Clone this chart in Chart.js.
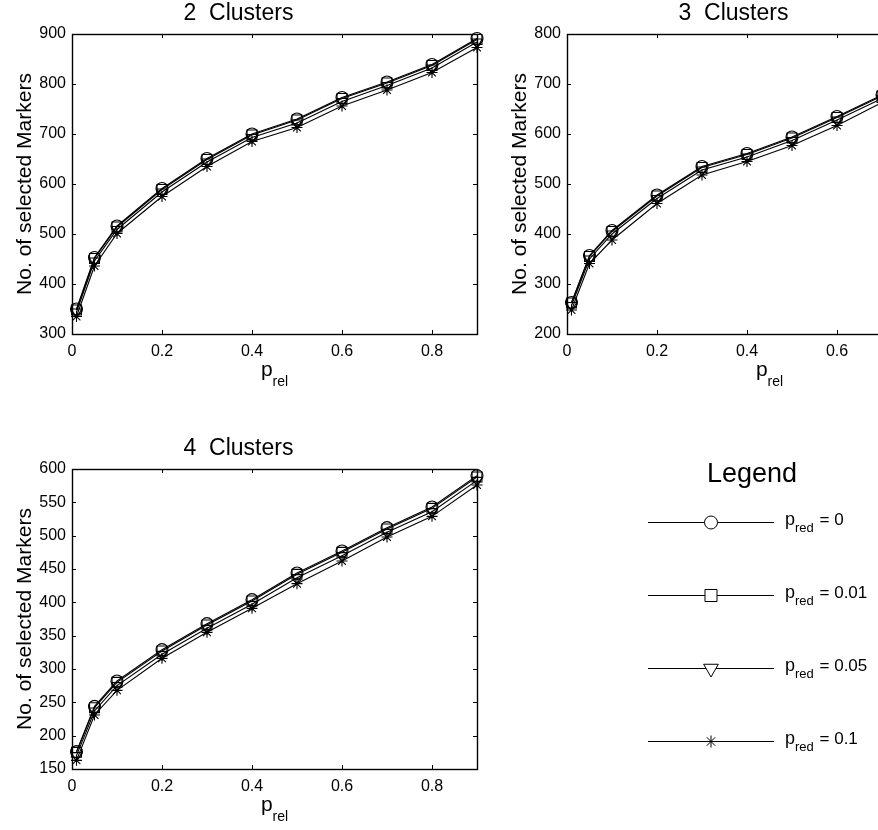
<!DOCTYPE html>
<html>
<head>
<meta charset="utf-8">
<script src="https://cdn.jsdelivr.net/npm/chart.js@4.4.1/dist/chart.umd.min.js"></script>
<style>
  html, body { margin: 0; padding: 0; background: #fff; overflow: hidden; }
  #wrap { position: relative; width: 878px; height: 830px; overflow: hidden; }
  canvas { position: absolute; }
</style>
</head>
<body>
<div id="wrap">
  <canvas id="c2" width="490" height="394" style="left:0;top:0"></canvas>
  <canvas id="c3" width="490" height="394" style="left:495px;top:0"></canvas>
  <canvas id="c4" width="490" height="394" style="left:0;top:435px"></canvas>
  <canvas id="leg" width="278" height="340" style="left:600px;top:440px"></canvas>
</div>
<script>
// x values (p_rel) and tick labels
var pRel = [0.01, 0.05, 0.1, 0.2, 0.3, 0.4, 0.5, 0.6, 0.7, 0.8, 0.9];
var xTicks = [0, 0.2, 0.4, 0.6, 0.8];

// 2 clusters
var c2Red0   = [350, 453, 516, 591, 651, 700, 730, 773, 804, 839, 891];
var c2Red001 = [348, 451, 514, 589, 649, 698, 728, 771, 802, 837, 889];
var c2Red005 = [344, 446, 509, 584, 644, 693, 722, 765, 797, 832, 884];
var c2Red01  = [335, 436, 501, 575, 635, 685, 713, 756, 788, 823, 873];

// 3 clusters
var c3Red0   = [263, 357, 407, 478, 535, 561, 594, 635, 678, 718, 770];
var c3Red001 = [262, 355, 405, 476, 533, 559, 592, 633, 676, 716, 768];
var c3Red005 = [257, 350, 400, 471, 528, 554, 587, 628, 671, 711, 763];
var c3Red01  = [248, 341, 388, 461, 518, 545, 577, 617, 663, 703, 755];

// 4 clusters
var c4Red0   = [176, 244, 282, 329, 368, 404, 444, 477, 512, 543, 590];
var c4Red001 = [175, 242, 280, 327, 366, 402, 442, 475, 510, 541, 588];
var c4Red005 = [170, 237, 275, 322, 361, 397, 437, 470, 505, 536, 583];
var c4Red01  = [163, 231, 268, 316, 355, 391, 428, 462, 498, 529, 576];

var legendLabels = ['0', '0.01', '0.05', '0.1'];

var FONT = '"Liberation Sans", Arial, Helvetica, sans-serif';
var markers = [
  { pointStyle: 'circle', rotation: 0, radius: 6, keyRadius: 6.5 },
  { pointStyle: 'rect', rotation: 0, radius: 7, keyRadius: 8.5 },
  { pointStyle: 'triangle', rotation: 180, radius: 6, keyRadius: 8.5 },
  { pointStyle: 'star', rotation: 0, radius: 5.5, keyRadius: 6 }
];

// box round the plot, inward ticks on all four sides, and the p_rel label
var frame = {
  id: 'frame',
  afterDraw: function (chart) {
    var ctx = chart.ctx, a = chart.chartArea;
    var xs = chart.scales.x, ys = chart.scales.y;
    ctx.save();
    ctx.strokeStyle = '#000';
    ctx.lineWidth = 1.4;
    ctx.strokeRect(Math.round(a.left) + 0.5, Math.round(a.top) + 0.5,
      Math.round(a.right - a.left), Math.round(a.bottom - a.top));
    ctx.lineWidth = 1;
    ctx.beginPath();
    xs.ticks.forEach(function (t) {
      var px = Math.round(xs.getPixelForValue(t.value)) + 0.5;
      ctx.moveTo(px, a.bottom); ctx.lineTo(px, a.bottom - 4);
      ctx.moveTo(px, a.top); ctx.lineTo(px, a.top + 4);
    });
    ys.ticks.forEach(function (t) {
      var py = Math.round(ys.getPixelForValue(t.value)) + 0.5;
      ctx.moveTo(a.left, py); ctx.lineTo(a.left + 4, py);
      ctx.moveTo(a.right, py); ctx.lineTo(a.right - 4, py);
    });
    ctx.stroke();

    var cx = (a.left + a.right) / 2;
    var base = a.bottom + 41.5;
    ctx.fillStyle = '#000';
    ctx.textBaseline = 'alphabetic';
    ctx.textAlign = 'left';
    ctx.font = '21px ' + FONT;
    var w1 = ctx.measureText('p').width;
    ctx.font = '14px ' + FONT;
    var w2 = ctx.measureText('rel').width;
    var x0 = cx - (w1 + w2) / 2;
    ctx.font = '21px ' + FONT;
    ctx.fillText('p', x0, base);
    ctx.font = '14px ' + FONT;
    ctx.fillText('rel', x0 + w1, base + 10.5);
    ctx.restore();
  }
};

function makeChart(id, title, series, yMin, yMax, yStep) {
  var datasets = series.map(function (vals, i) {
    return {
      label: 'p_red = ' + legendLabels[i],
      data: pRel.map(function (x, j) { return { x: x, y: vals[j] }; }),
      borderColor: '#000',
      borderWidth: 1.1,
      backgroundColor: 'transparent',
      pointStyle: markers[i].pointStyle,
      pointRotation: markers[i].rotation,
      pointRadius: markers[i].radius,
      pointBorderColor: '#000',
      pointBackgroundColor: 'rgba(0,0,0,0)',
      pointBorderWidth: 1.1,
      tension: 0,
      clip: false
    };
  });
  return new Chart(document.getElementById(id), {
    type: 'line',
    data: { datasets: datasets },
    plugins: [frame],
    options: {
      responsive: false,
      animation: false,
      layout: { padding: { left: 0, right: 13, top: 0, bottom: 0 } },
      plugins: {
        legend: { display: false },
        tooltip: { enabled: false },
        title: {
          display: true,
          text: title,
          color: '#000',
          font: { family: FONT, size: 23, weight: 'normal' },
          padding: { top: 0, bottom: 6.4 }
        }
      },
      scales: {
        x: {
          type: 'linear',
          min: 0,
          max: 0.9,
          afterBuildTicks: function (s) {
            s.ticks = xTicks.map(function (v) { return { value: v }; });
          },
          afterFit: function (s) { s.height = 60; },
          grid: { display: false, drawTicks: false },
          border: { display: false },
          ticks: {
            color: '#000',
            padding: 8,
            maxRotation: 0,
            font: { family: FONT, size: 16 },
            callback: function (v) { return String(v); }
          }
        },
        y: {
          min: yMin,
          max: yMax,
          afterFit: function (s) { s.width = 72; },
          grid: { display: false, drawTicks: false },
          border: { display: false },
          ticks: {
            color: '#000',
            padding: 6,
            stepSize: yStep,
            font: { family: FONT, size: 16 }
          },
          title: {
            display: true,
            text: 'No. of selected Markers',
            color: '#000',
            font: { family: FONT, size: 21 },
            padding: { top: 13, bottom: 0 }
          }
        }
      }
    }
  });
}

makeChart('c2', '2  Clusters', [c2Red0, c2Red001, c2Red005, c2Red01], 300, 900, 100);
makeChart('c3', '3  Clusters', [c3Red0, c3Red001, c3Red005, c3Red01], 200, 800, 100);
makeChart('c4', '4  Clusters', [c4Red0, c4Red001, c4Red005, c4Red01], 150, 600, 50);

// legend panel
var keyBox = {
  id: 'keyBox',
  afterDraw: function (chart) {
    var ctx = chart.ctx;
    var rows = [82, 155, 228, 301];
    ctx.save();
    ctx.fillStyle = '#000';
    ctx.textAlign = 'center';
    ctx.textBaseline = 'middle';
    ctx.font = '27px ' + FONT;
    ctx.fillText('Legend', 152, 35);
    rows.forEach(function (ry, i) {
      ctx.strokeStyle = '#000';
      ctx.lineWidth = 1;
      ctx.beginPath();
      ctx.moveTo(48, ry + 0.5);
      ctx.lineTo(174, ry + 0.5);
      ctx.stroke();
      var m = markers[i];
      ctx.fillStyle = '#fff';
      Chart.helpers.drawPoint(ctx, {
        pointStyle: m.pointStyle, rotation: m.rotation,
        radius: m.keyRadius, borderWidth: 1
      }, 111, ry + 0.5);
      ctx.fillStyle = '#000';
      ctx.textAlign = 'left';
      ctx.textBaseline = 'alphabetic';
      ctx.font = '18px ' + FONT;
      ctx.fillText('p', 185, ry + 3);
      var w = ctx.measureText('p').width;
      ctx.font = '13px ' + FONT;
      ctx.fillText('red', 185 + w, ry + 10);
      var w2 = ctx.measureText('red').width;
      ctx.font = '17px ' + FONT;
      ctx.fillText(' = ' + legendLabels[i], 185 + w + w2 + 1, ry + 3);
    });
    ctx.restore();
  }
};

new Chart(document.getElementById('leg'), {
  type: 'line',
  data: { datasets: [] },
  plugins: [keyBox],
  options: {
    responsive: false,
    animation: false,
    plugins: { legend: { display: false }, tooltip: { enabled: false } },
    scales: { x: { display: false }, y: { display: false } }
  }
});
</script>
</body>
</html>
